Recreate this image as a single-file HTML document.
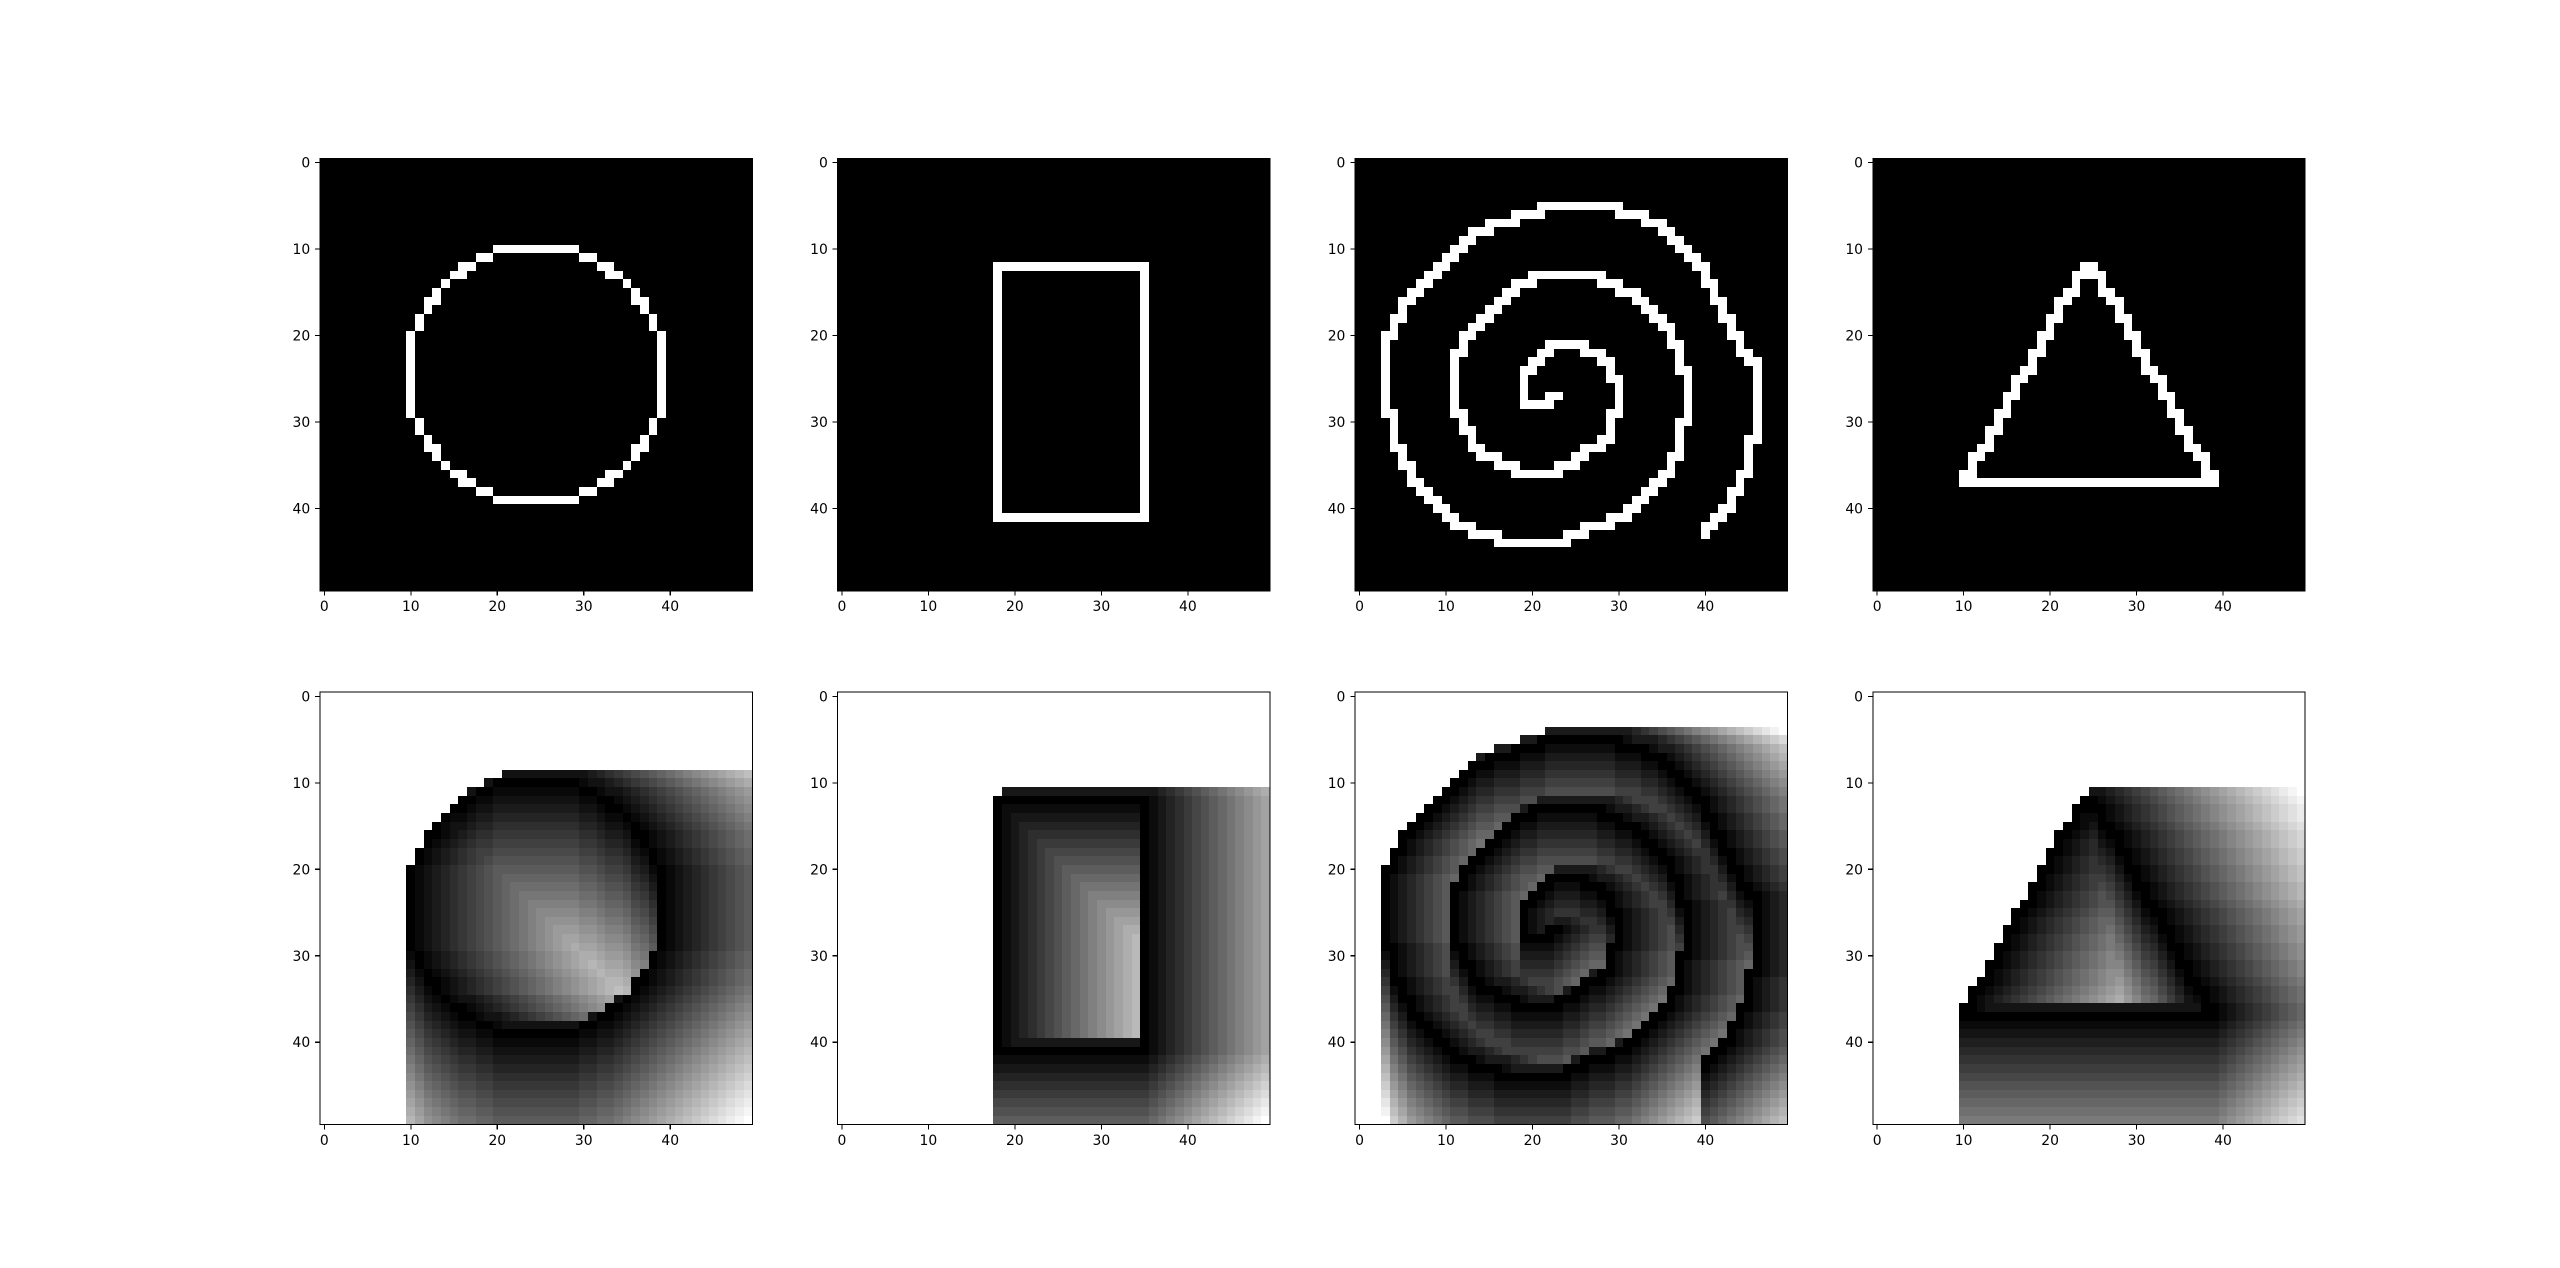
<!DOCTYPE html>
<html><head><meta charset="utf-8">
<style>
html,body{margin:0;padding:0;background:#fff;width:2560px;height:1268px;overflow:hidden}
svg{display:block}
text{font-family:"DejaVu Sans","Liberation Sans",sans-serif;font-size:13.9px;fill:#000}
</style></head>
<body>
<svg id="fig" width="2560" height="1268" viewBox="0 0 2560 1268" xmlns="http://www.w3.org/2000/svg" shape-rendering="crispEdges"></svg>
<script>
// ---- data ----
const gridSize = 50;
const tickValues = [0, 10, 20, 30, 40];
const tickLabels = ["0", "10", "20", "30", "40"];
const circleCenter = [24.5, 24.5];
const circleRadius = [14.3, 15.2];
const rectRows = [12, 41];
const rectCols = [18, 35];
const triangleLines = [[[24,12],[10,37]], [[25,12],[39,37]], [[10,37],[39,37]]];
const spiralPoints = [[23,27],[22,28],[20,28],[19,27],[19,24],[20,23],[21,22],[22,21],[25,21],[27,22],[28,23],[29,24],[29,25],[30,26],[30,29],[29,30],[29,32],[27,33],[26,34],[24,35],[22,36],[19,36],[17,35],[15,34],[13,32],[12,30],[11,28],[11,23],[12,21],[13,19],[15,17],[17,15],[19,14],[21,13],[26,13],[29,14],[31,15],[33,17],[35,19],[36,20],[37,22],[37,24],[38,25],[38,29],[37,31],[37,33],[36,35],[35,37],[34,38],[32,40],[30,41],[28,42],[25,43],[24,44],[18,44],[14,43],[12,42],[10,40],[8,38],[6,36],[5,34],[4,32],[4,29],[3,29],[3,21],[4,19],[5,17],[6,15],[8,13],[10,11],[12,9],[14,8],[16,7],[20,6],[21,5],[28,5],[31,6],[34,7],[36,9],[38,11],[40,13],[41,15],[42,17],[43,19],[44,21],[45,23],[46,24],[46,32],[45,33],[45,36],[44,37],[43,39],[42,41],[41,42],[40,43]];

// ---- layout ----
const panelLefts = [320, 837.6, 1355.2, 1872.8];
const rowTops = [158.3, 692];
const panelSize = 432.4;
const cell = panelSize / gridSize;
const svg = document.getElementById('fig');
const NS = 'http://www.w3.org/2000/svg';

function blank(){ const m=[]; for(let r=0;r<gridSize;r++){m.push(new Array(gridSize).fill(0));} return m; }
function setPx(m,r,c){ if(r>=0&&r<gridSize&&c>=0&&c<gridSize) m[r][c]=1; }
function drawLine(m,a,b){
  const n = Math.ceil(Math.max(Math.abs(b[0]-a[0]),Math.abs(b[1]-a[1]))*8)+1;
  let pr=null, pc=null;
  for(let k=0;k<=n;k++){ const t=k/n;
    const c=Math.round(a[0]+(b[0]-a[0])*t), r=Math.round(a[1]+(b[1]-a[1])*t);
    if(pr!==null && pr!==r && pc!==c) setPx(m,pr,c);
    setPx(m,r,c); pr=r; pc=c; }
}
function circleMask(){ const m=blank();
  for(let r=0;r<gridSize;r++)for(let c=0;c<gridSize;c++){
    const d=Math.hypot(r-circleCenter[1],c-circleCenter[0]);
    if(d>=circleRadius[0]&&d<=circleRadius[1]) m[r][c]=1; }
  return m; }
function rectMask(){ const m=blank();
  for(let r=rectRows[0];r<=rectRows[1];r++)for(let c=rectCols[0];c<=rectCols[1];c++){
    if(r===rectRows[0]||r===rectRows[1]||c===rectCols[0]||c===rectCols[1]) m[r][c]=1; }
  return m; }
function polyMask(pts){ const m=blank(); for(let i=0;i<pts.length-1;i++) drawLine(m,pts[i],pts[i+1]); return m; }
function triMask(){ const m=blank(); triangleLines.forEach(l=>drawLine(m,l[0],l[1])); return m; }

function forwardDist(m){
  const pts=[]; for(let r=0;r<gridSize;r++)for(let c=0;c<gridSize;c++) if(m[r][c]) pts.push([r,c]);
  const D=blank(); let mx=0;
  for(let r=0;r<gridSize;r++)for(let c=0;c<gridSize;c++){
    let best=Infinity;
    for(const p of pts){
      if((p[0]<=r&&p[1]<=c)||(p[0]===r+1&&p[1]<c)){
        const d=Math.abs(r-p[0])+Math.abs(c-p[1]); if(d<best) best=d; } }
    D[r][c]=best; if(best<Infinity&&best>mx) mx=best; }
  return {D, mx};
}

function addAxes(g,x0,y0){
  const frame=document.createElementNS(NS,'rect');
  
  
  frame.setAttribute('x',x0);frame.setAttribute('y',y0);
  frame.setAttribute('width',panelSize);frame.setAttribute('height',panelSize);
  frame.setAttribute('fill','none');frame.setAttribute('stroke','#000');frame.setAttribute('stroke-width','1.1');
  g.appendChild(frame);
  tickValues.forEach((v,i)=>{
    const px=x0+(v+0.5)*cell, py=y0+(v+0.5)*cell;
    const tx=document.createElementNS(NS,'line');
    
    
    tx.setAttribute('x1',px);tx.setAttribute('x2',px);tx.setAttribute('y1',y0+panelSize);tx.setAttribute('y2',y0+panelSize+4.9);
    tx.setAttribute('stroke','#000');tx.setAttribute('stroke-width','1.1');g.appendChild(tx);
    const lx=document.createElementNS(NS,'text');
    
    
    lx.setAttribute('x',px);lx.setAttribute('y',y0+panelSize+20.5);lx.setAttribute('text-anchor','middle');
    lx.textContent=tickLabels[i];g.appendChild(lx);
    const ty=document.createElementNS(NS,'line');
    
    
    ty.setAttribute('x1',x0-4.9);ty.setAttribute('x2',x0);ty.setAttribute('y1',py);ty.setAttribute('y2',py);
    ty.setAttribute('stroke','#000');ty.setAttribute('stroke-width','1.1');g.appendChild(ty);
    const ly=document.createElementNS(NS,'text');
    
    
    ly.setAttribute('x',x0-9.8);ly.setAttribute('y',py+5);ly.setAttribute('text-anchor','end');
    ly.textContent=tickLabels[i];g.appendChild(ly);
  });
}

const masks=[circleMask(), rectMask(), polyMask(spiralPoints), triMask()];
const panelNames=['circle','rectangle','spiral','triangle'];
masks.forEach((m,pi)=>{
  const x0=panelLefts[pi];
  const gt=document.createElementNS(NS,'g');
  
  
  svg.appendChild(gt);
  const bg=document.createElementNS(NS,'rect');
  
  
  bg.setAttribute('x',x0);bg.setAttribute('y',rowTops[0]);bg.setAttribute('width',panelSize);bg.setAttribute('height',panelSize);bg.setAttribute('fill','#000');
  gt.appendChild(bg);
  for(let r=0;r<gridSize;r++)for(let c=0;c<gridSize;c++){ if(!m[r][c]) continue;
    const x1=Math.round(x0+c*cell), x2=Math.round(x0+(c+1)*cell), y1=Math.round(rowTops[0]+r*cell), y2=Math.round(rowTops[0]+(r+1)*cell);
    const cr=document.createElementNS(NS,'rect');
    
    
    cr.setAttribute('x',x1);cr.setAttribute('y',y1);cr.setAttribute('width',x2-x1);cr.setAttribute('height',y2-y1);cr.setAttribute('fill','#fff');
    gt.appendChild(cr); }
  addAxes(gt,x0,rowTops[0]);
  const gb=document.createElementNS(NS,'g');
  
  
  svg.appendChild(gb);
  const {D,mx}=forwardDist(m);
  for(let r=0;r<gridSize;r++)for(let c=0;c<gridSize;c++){
    const v=D[r][c]===Infinity?1:D[r][c]/mx;
    const g=Math.round(v*255);
    const x1=Math.round(x0+c*cell), x2=Math.round(x0+(c+1)*cell), y1=Math.round(rowTops[1]+r*cell), y2=Math.round(rowTops[1]+(r+1)*cell);
    const cr=document.createElementNS(NS,'rect');
    
    
    cr.setAttribute('x',x1);cr.setAttribute('y',y1);cr.setAttribute('width',x2-x1);cr.setAttribute('height',y2-y1);
    cr.setAttribute('fill','rgb('+g+','+g+','+g+')');
    gb.appendChild(cr); }
  addAxes(gb,x0,rowTops[1]);
});
</script>
</body></html>
